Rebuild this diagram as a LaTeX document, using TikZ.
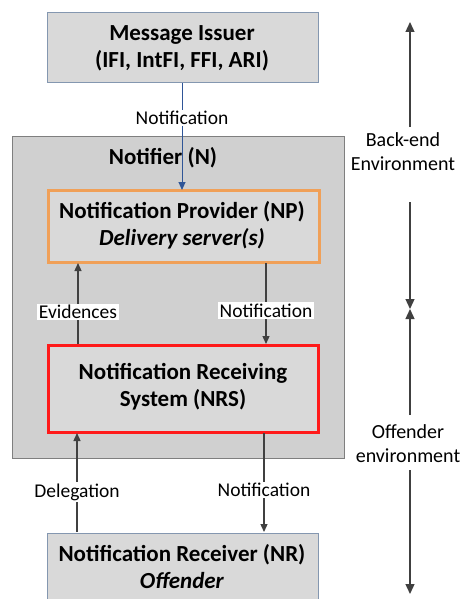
\documentclass[tikz,border=0pt]{standalone}
\usepackage{fontspec}
\setmainfont{Carlito}
\usetikzlibrary{arrows.meta}
\definecolor{boxfill}{HTML}{D9D9D9}
\definecolor{outerfill}{HTML}{D0D0D0}
\definecolor{blueedge}{HTML}{8497B0}
\definecolor{grayedge}{HTML}{7F7F7F}
\definecolor{orangeedge}{HTML}{F0A058}
\definecolor{rededge}{HTML}{FF1A1A}
\definecolor{arrowcol}{HTML}{404040}
\definecolor{bluearrow}{HTML}{2F5597}
\tikzset{
  x=1pt,y=-1pt,
  boxtext/.style={font=\fontsize{23}{27}\selectfont\bfseries, align=center},
  lbl/.style={font=\fontsize{19.5}{22}\selectfont, fill=white, inner sep=1.5pt},
  envlbl/.style={font=\fontsize{20}{23.5}\selectfont, align=center},
  flow/.style={draw=arrowcol, line width=1.3pt, -{Triangle[length=8pt,width=7pt]}},
  envarrow/.style={draw=arrowcol, line width=1.3pt, -{Triangle[length=10pt,width=9pt]}},
}
\begin{document}
\begin{tikzpicture}
\useasboundingbox (0,0) rectangle (463,599);
\clip (0,0) rectangle (463,599);
% boxes
\path[fill=boxfill, draw=blueedge, line width=1pt] (47,13) rectangle (318,83);
\path[fill=outerfill, draw=grayedge, line width=1pt] (12,136) rectangle (344,458);
\path[fill=boxfill, draw=orangeedge, line width=3pt] (48,190) rectangle (319,262);
\path[fill=boxfill, draw=rededge, line width=3pt] (48,345) rectangle (318,432);
\path[fill=boxfill, draw=blueedge, line width=1pt] (47,533) rectangle (318,620);
% box anchors
\coordinate (mib) at (182,83);
\coordinate (npt) at (182,190);
\coordinate (npbl) at (78,263);
\coordinate (npbr) at (266,263);
\coordinate (nrstl) at (78,344);
\coordinate (nrstr) at (266,344);
\coordinate (nrsbl) at (77,433);
\coordinate (nrsbr) at (264,433);
\coordinate (nrtl) at (77,532);
\coordinate (nrtr) at (264,532);
% texts
\node[boxtext] (mi) at (182,48.5) {Message Issuer\\(IFI, IntFI, FFI, ARI)};
\node[boxtext] (notifier) at (163,158) {Notifier (N)};
\node[boxtext] (np) at (182,225.5) {Notification Provider (NP)\\\textit{Delivery server(s)}};
\node[boxtext] (nrs) at (183,387) {Notification Receiving\\System (NRS)};
\node[boxtext] (nr) at (182,567) {Notification Receiver (NR)\\\textit{Offender}};
% connectors
\draw[flow, draw=bluearrow, line width=1pt] (mib) -- (npt) node[lbl, pos=0.327] (l0) {Notification};
\draw[flow] (nrstl) -- (npbl) node[lbl, pos=0.395] (l1) {Evidences};
\draw[flow] (npbr) -- (nrstr) node[lbl, pos=0.59] (l2) {Notification};
\draw[flow] (nrtl) -- (nrsbl) node[lbl, pos=0.40] (l3) {Delegation};
\draw[flow] (nrsbr) -- (nrtr) node[lbl, pos=0.576] (l4) {Notification};
% environment axis
\node[envlbl] (be) at (403,151.5) {Back-end\\Environment};
\node[envlbl] (oe) at (408,443.5) {Offender\\environment};
\coordinate (top) at (410,22);
\coordinate (mid) at (410,309);
\coordinate (bot) at (410,594);
\coordinate (s2) at (410,202);
\coordinate (s3) at (410,415);
\draw[envarrow] (410,127) -- (top);
\draw[envarrow] (s2) -- (mid);
\draw[envarrow] (s3) -- (mid);
\draw[envarrow] (410,470) -- (bot);
\end{tikzpicture}
\end{document}
